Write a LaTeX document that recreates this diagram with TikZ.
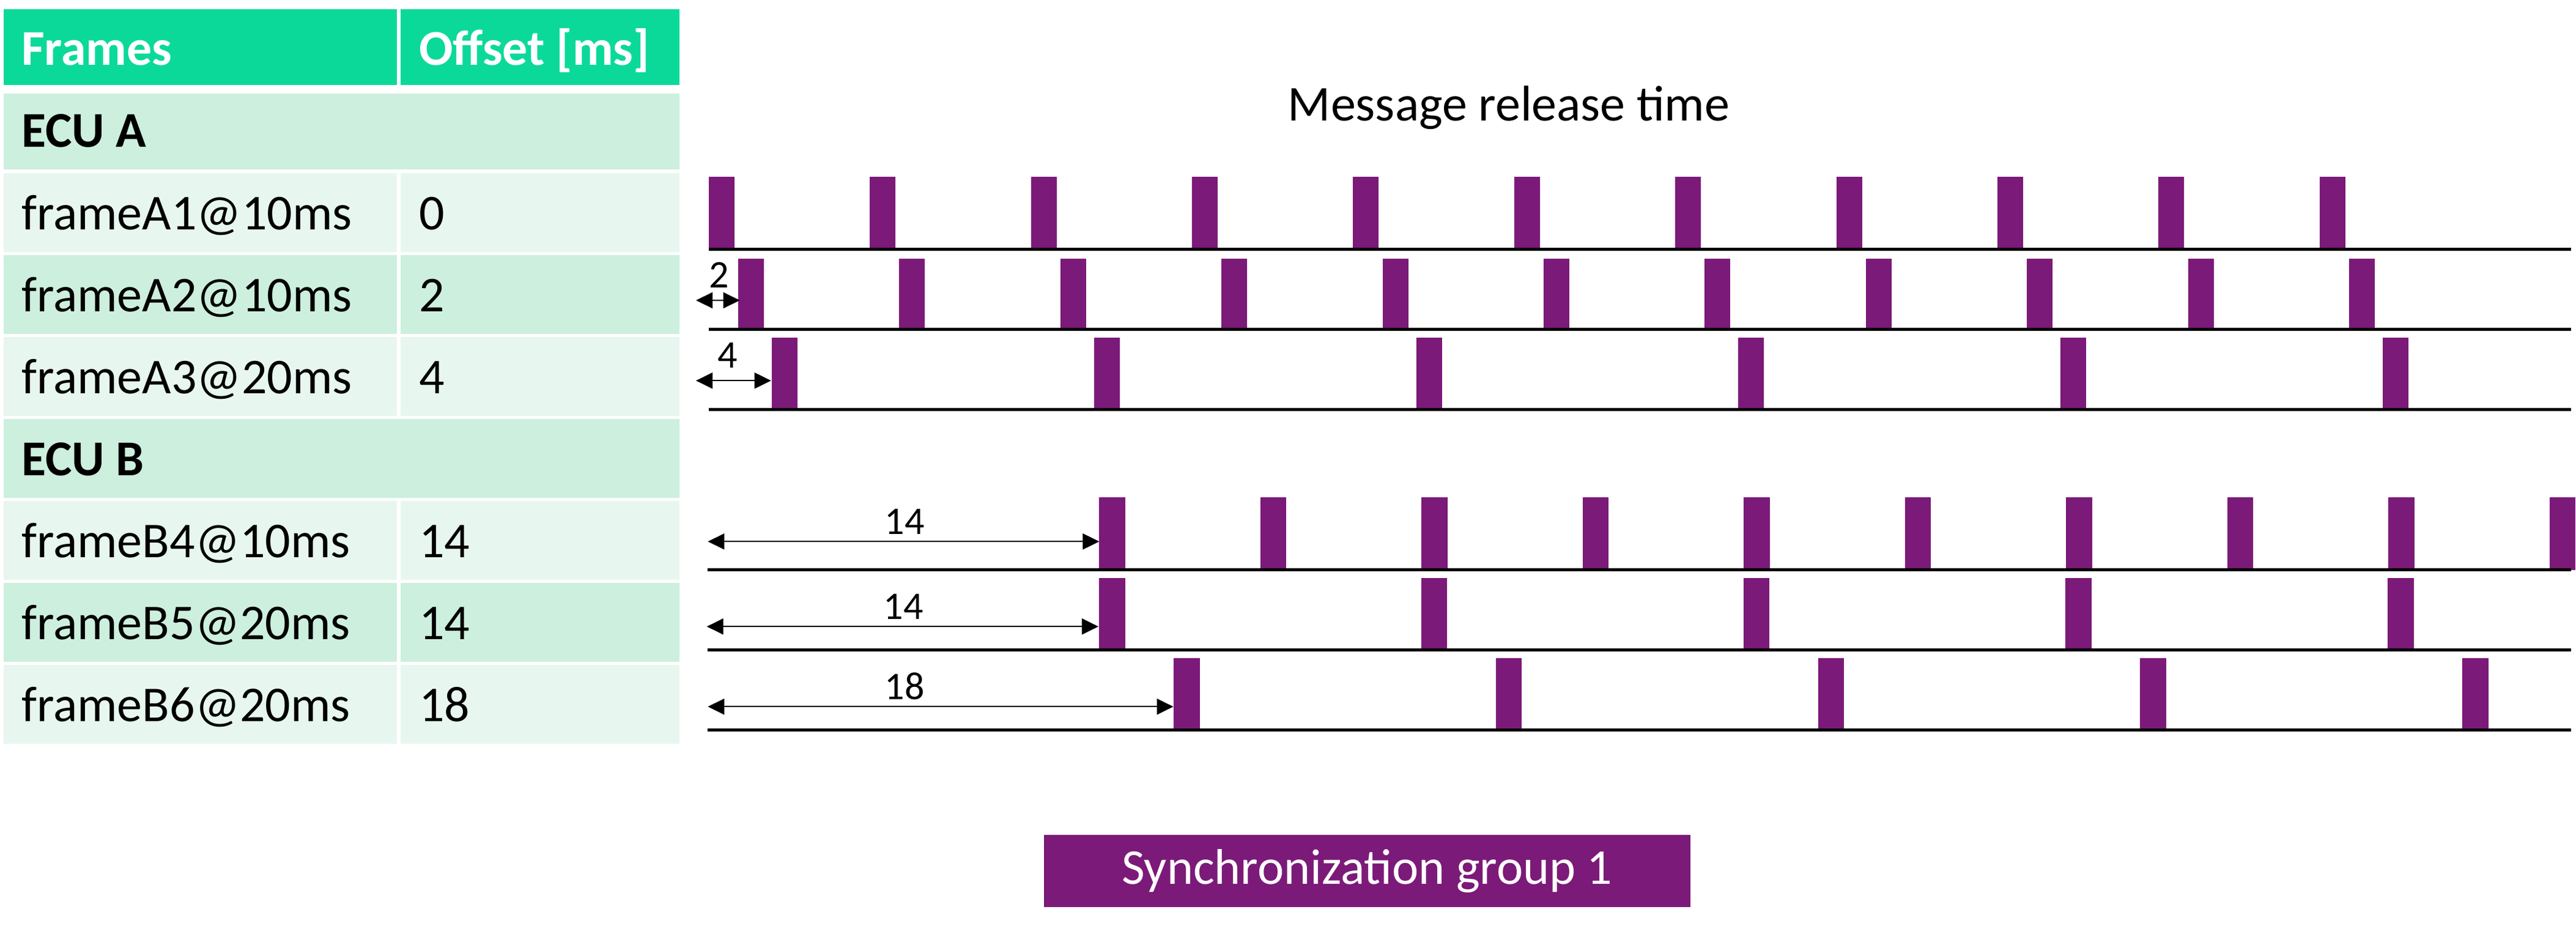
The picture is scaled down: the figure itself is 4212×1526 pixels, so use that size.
\documentclass[tikz,border=0pt]{standalone}
\usepackage{fontspec}
\setmainfont{Carlito}
\usetikzlibrary{arrows.meta}
\definecolor{hdrgreen}{RGB}{11,217,154}
\definecolor{rowdark}{RGB}{205,239,222}
\definecolor{rowlight}{RGB}{231,247,239}
\definecolor{barpurple}{RGB}{123,26,120}
\tikzset{
  cell/.style={draw=none, inner sep=0pt, outer sep=0pt, anchor=north west},
  celltxt/.style={anchor=base west, inner sep=0pt, font=\fontsize{82}{98}\selectfont},
  hdrtxt/.style={anchor=base west, inner sep=0pt, text=white, font=\fontsize{82}{98}\selectfont\bfseries},
  ecutxt/.style={anchor=base west, inner sep=0pt, font=\fontsize{82}{98}\selectfont\bfseries},
  axisline/.style={line width=4.7pt, black},
  msgbar/.style={fill=barpurple},
  offarrow/.style={{Triangle[length=27pt,width=26pt]}-{Triangle[length=27pt,width=26pt]}, line width=2.3pt},
  offlabel/.style={anchor=base, inner sep=0pt, font=\fontsize{64}{76}\selectfont},
}
\begin{document}
\begin{tikzpicture}[x=1pt,y=-1pt]
\useasboundingbox[fill=white] (0,0) rectangle (4212,1526);

% ---------- table ----------
\node[cell, fill=hdrgreen, minimum width=643pt, minimum height=124.3pt] (h1) at (6,15) {};
\node[cell, fill=hdrgreen, minimum width=456pt, minimum height=124.3pt] (h2) at (655,15) {};
\node[cell, fill=rowdark, minimum width=1105pt, minimum height=124pt] (ecua) at (6,153.3) {};
\node[cell, fill=rowlight, minimum width=643pt, minimum height=129pt] (a1l) at (6,282.7) {};
\node[cell, fill=rowlight, minimum width=456pt, minimum height=129pt] (a1r) at (655,282.7) {};
\node[cell, fill=rowdark, minimum width=643pt, minimum height=129pt] (a2l) at (6,416.7) {};
\node[cell, fill=rowdark, minimum width=456pt, minimum height=129pt] (a2r) at (655,416.7) {};
\node[cell, fill=rowlight, minimum width=643pt, minimum height=129pt] (a3l) at (6,550.7) {};
\node[cell, fill=rowlight, minimum width=456pt, minimum height=129pt] (a3r) at (655,550.7) {};
\node[cell, fill=rowdark, minimum width=1105pt, minimum height=129pt] (ecub) at (6,684.7) {};
\node[cell, fill=rowlight, minimum width=643pt, minimum height=129pt] (b4l) at (6,818.7) {};
\node[cell, fill=rowlight, minimum width=456pt, minimum height=129pt] (b4r) at (655,818.7) {};
\node[cell, fill=rowdark, minimum width=643pt, minimum height=129pt] (b5l) at (6,952.7) {};
\node[cell, fill=rowdark, minimum width=456pt, minimum height=129pt] (b5r) at (655,952.7) {};
\node[cell, fill=rowlight, minimum width=643pt, minimum height=129pt] (b6l) at (6,1086.7) {};
\node[cell, fill=rowlight, minimum width=456pt, minimum height=129pt] (b6r) at (655,1086.7) {};

\node[hdrtxt] (t-frames) at (35,106) {Frames};
\node[hdrtxt] (t-offset) at (685,106) {Offset [ms]};
\node[ecutxt] (t-ecua) at (35,240) {ECU A};
\node[celltxt] (t-a1) at (35,375) {frameA1@10ms};
\node[celltxt] (t-a1o) at (685,375) {0};
\node[celltxt] (t-a2) at (35,509) {frameA2@10ms};
\node[celltxt] (t-a2o) at (685,509) {2};
\node[celltxt] (t-a3) at (35,643) {frameA3@20ms};
\node[celltxt] (t-a3o) at (685,643) {4};
\node[ecutxt] (t-ecub) at (35,777) {ECU B};
\node[celltxt] (t-b4) at (35,911) {frameB4@10ms};
\node[celltxt] (t-b4o) at (685,911) {14};
\node[celltxt] (t-b5) at (35,1045) {frameB5@20ms};
\node[celltxt] (t-b5o) at (685,1045) {14};
\node[celltxt] (t-b6) at (35,1179) {frameB6@20ms};
\node[celltxt] (t-b6o) at (685,1179) {18};

% ---------- title ----------
\node[anchor=base, inner sep=0pt, font=\fontsize{82}{98}\selectfont] (title) at (2467,197.6) {Message release time};

% ---------- bars ----------
\foreach \k in {0,...,10} \fill[msgbar] ({1158.7+263.4*\k},289.3) rectangle ++(42,118.4);
\foreach \k in {0,...,10} \fill[msgbar] ({1207+263.4*\k},423.3) rectangle ++(42,115.5);
\foreach \k in {0,...,5}  \fill[msgbar] ({1262+526.8*\k},551.7) rectangle ++(42,118);
\foreach \k in {0,...,9}  \fill[msgbar] ({1797+263.5*\k},813.3) rectangle ++(42.5,118.4);
\foreach \k in {0,...,4}  \fill[msgbar] ({1797+526.8*\k},945.3) rectangle ++(42.5,117.5);
\foreach \k in {0,...,4}  \fill[msgbar] ({1919+526.8*\k},1076) rectangle ++(42.5,117.8);

% ---------- time axes ----------
\coordinate (la1s) at (1158.7,407.7);  \coordinate (la1e) at (4203.6,407.7);
\coordinate (la2s) at (1158.7,538.8);  \coordinate (la2e) at (4203.6,538.8);
\coordinate (la3s) at (1158.7,669.7);  \coordinate (la3e) at (4203.6,669.7);
\coordinate (lb4s) at (1157,931.7);    \coordinate (lb4e) at (4203.6,931.7);
\coordinate (lb5s) at (1157,1062.8);   \coordinate (lb5e) at (4203.6,1062.8);
\coordinate (lb6s) at (1157,1193.8);   \coordinate (lb6e) at (4203.6,1193.8);
\draw[axisline] (la1s) -- (la1e);
\draw[axisline] (la2s) -- (la2e);
\draw[axisline] (la3s) -- (la3e);
\draw[axisline] (lb4s) -- (lb4e);
\draw[axisline] (lb5s) -- (lb5e);
\draw[axisline] (lb6s) -- (lb6e);

% ---------- offset arrows ----------
\coordinate (oa2s) at (1138,491);    \coordinate (oa2e) at (1209.7,491);
\coordinate (oa3s) at (1138,622.3);  \coordinate (oa3e) at (1260.7,622.3);
\coordinate (ob4s) at (1157.4,885.3);  \coordinate (ob4e) at (1797.4,885.3);
\coordinate (ob5s) at (1155.7,1024.3); \coordinate (ob5e) at (1796,1024.3);
\coordinate (ob6s) at (1157.4,1155.3); \coordinate (ob6e) at (1918.5,1155.3);
\draw[offarrow] (oa2s) -- (oa2e);
\draw[offarrow] (oa3s) -- (oa3e);
\draw[offarrow] (ob4s) -- (ob4e);
\draw[offarrow] (ob5s) -- (ob5e);
\draw[offarrow] (ob6s) -- (ob6e);
\node[offlabel] (l2) at (1175.5,470.7) {2};
\node[offlabel] (l4) at (1190,601.7) {4};
\node[offlabel] (l14a) at (1479,873.3) {14};
\node[offlabel] (l14b) at (1477,1012.3) {14};
\node[offlabel] (l18) at (1479,1143.3) {18};

% ---------- synchronization group ----------
\node[fill=barpurple, text=white, inner sep=0pt, minimum width=1057.7pt, minimum height=118.3pt,
      font=\fontsize{82}{98}\selectfont] (sync) at (2235.5,1424.2) {Synchronization group 1};
\end{tikzpicture}
\end{document}
